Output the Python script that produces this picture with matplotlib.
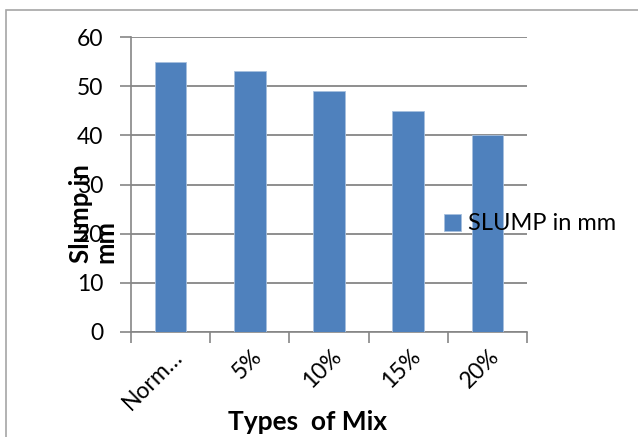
import matplotlib
matplotlib.use("Agg")
import matplotlib.pyplot as plt
from matplotlib.patches import Rectangle
from matplotlib.transforms import ScaledTranslation
import numpy as np

categories = ["Norm…", "5%", "10%", "15%", "20%"]
slump = [55, 53, 49, 45, 40]
series_name = "SLUMP in mm"
y_ticks = [0, 10, 20, 30, 40, 50, 60]

W, H = 638, 437
plt.rcParams["font.family"] = ["Lato", "DejaVu Sans"]

fig = plt.figure(figsize=(W / 100, H / 100), dpi=100)
fig.patch.set_facecolor("white")

# outer chart frame
fig.patches.append(Rectangle((5.5 / W, -0.1), 1.2, 1 - 9.5 / H + 0.1,
                             transform=fig.transFigure, fill=False,
                             edgecolor="#a6a6a6", linewidth=1.2))

ax = fig.add_axes([131 / W, 1 - 332 / H, (527 - 131) / W, (332 - 37) / H])
x = np.arange(len(categories))
ax.bar(x, slump, width=0.4, color="#4f81bd", edgecolor="#a7c0de",
       linewidth=0.6, label=series_name, zorder=3)

ax.set_xlim(-0.5, len(categories) - 0.5)
ax.set_ylim(0, 60)
ax.set_yticks(y_ticks)
ax.set_yticklabels([str(v) for v in y_ticks], fontsize=16.5)
ax.yaxis.grid(True, color="#868686", linewidth=1.3, zorder=0)
ax.tick_params(axis="y", length=8, width=1.2, color="#868686", pad=12)

# tick marks at category boundaries, rotated labels under category centres
ax.set_xticks(np.arange(len(categories) + 1) - 0.5)
ax.set_xticklabels([])
ax.tick_params(axis="x", which="major", length=8, width=1.2, color="#868686")
offset = ScaledTranslation(0.09, -0.21, fig.dpi_scale_trans)
for i, name in enumerate(categories):
    ax.text(i, 0, name, transform=ax.get_xaxis_transform() + offset,
            rotation=45, ha="right", va="center", rotation_mode="anchor",
            fontsize=16.5)

for s in ["top", "right"]:
    ax.spines[s].set_visible(False)
for s in ["left", "bottom"]:
    ax.spines[s].set_color("#868686")
    ax.spines[s].set_linewidth(1.2)

fig.text(93 / W, 1 - 263 / H, "Slump in\nmm", rotation=90, ha="center",
         va="bottom", multialignment="left", fontsize=18.5,
         fontweight="bold", linespacing=1.0)
fig.text(308 / W, 1 - 422 / H, "Types  of Mix", ha="center", va="center",
         fontsize=19, fontweight="bold")

ax.legend(loc="center left", bbox_to_anchor=(444 / W, 1 - 224 / H),
          bbox_transform=fig.transFigure, frameon=False, fontsize=17,
          handlelength=0.7, handleheight=0.7, handletextpad=0.3,
          borderpad=0, borderaxespad=0)

fig.savefig("out.png", dpi=100)
